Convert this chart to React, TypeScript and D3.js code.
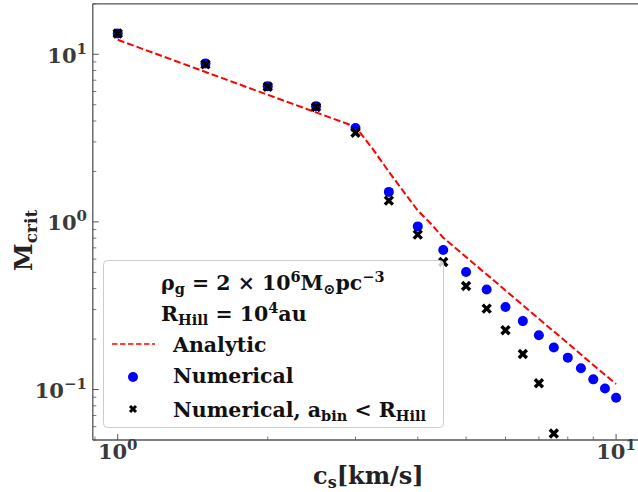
import React from "react";
import * as d3 from "d3";

const csValues = [1, 1.5, 2, 2.5, 3, 3.5, 4, 4.5, 5, 5.5, 6, 6.5, 7, 7.5, 8, 8.5, 9, 9.5, 10];
const numerical = [13.3, 8.8, 6.45, 4.9, 3.63, 1.51, 0.94, 0.68, 0.503, 0.395, 0.311, 0.256, 0.211, 0.178, 0.155, 0.134, 0.115, 0.1015, 0.0893];
const crossCs = [1, 1.5, 2, 2.5, 3, 3.5, 4, 4.5, 5, 5.5, 6, 6.5, 7, 7.5];
const numericalBin = [13.3, 8.7, 6.4, 4.85, 3.4, 1.34, 0.84, 0.577, 0.415, 0.304, 0.226, 0.163, 0.109, 0.0547];
const analyticCs = [1, 1.5, 2, 2.5, 3, 3.25, 3.5, 3.75, 4, 4.25, 4.5, 5, 6, 7, 8, 9, 10];
const analytic = [12.2, 7.84, 5.73, 4.5, 3.69, 2.72, 1.99, 1.51, 1.17, 0.975, 0.805, 0.618, 0.39, 0.264, 0.189, 0.14, 0.108];
const xMajor = [1, 10];
const xMajorExp = ["0", "1"];
const yMajor = [0.1, 1, 10];
const yMajorExp = ["\u22121", "0", "1"];

const W = 638, H = 492;
const left = 92.8, right = 641, top = 3.8, bottom = 440;

export default function App() {
  const x = d3.scaleLog().domain([Math.pow(10, -0.05), Math.pow(10, 1.05)]).range([left, right]);
  const y = d3.scaleLog().domain([0.05, 20]).range([bottom, top]);

  const xMinor: number[] = [];
  [0.1, 1, 10].forEach((d) => { for (let k = 2; k <= 9; k++) { const v = d * k; if (v >= x.domain()[0] && v <= x.domain()[1] && v !== 1 && v !== 10) xMinor.push(v); } });
  const yMinor: number[] = [];
  [0.01, 0.1, 1, 10].forEach((d) => { for (let k = 2; k <= 9; k++) { const v = d * k; if (v >= 0.05 && v <= 20) yMinor.push(v); } });

  const line = d3.line<number>().x((_, i) => x(analyticCs[i])).y((d) => y(d));
  const font = "'DejaVu Serif', serif";
  const tickColor = "#3a3a3a";
  const cross = (cx: number, cy: number, s: number, w: number, key?: any) => (
    <path key={key} d={`M${cx - s},${cy - s}L${cx + s},${cy + s}M${cx - s},${cy + s}L${cx + s},${cy - s}`} stroke="#000" strokeWidth={w} strokeLinecap="butt" />
  );

  return (
    <svg width={W} height={H} style={{ position: "absolute", left: 0, top: 0 }} fontFamily={font} fontWeight="bold">
      <rect width={W} height={H} fill="#fff" />
      <defs>
        <clipPath id="plotclip"><rect x={left} y={top} width={right - left} height={bottom - top} /></clipPath>
      </defs>
      {/* ticks */}
      {xMajor.map((v) => <line key={"xM" + v} x1={x(v)} x2={x(v)} y1={bottom} y2={bottom - 6} stroke="#555" strokeWidth={1} />)}
      {xMinor.map((v) => <line key={"xm" + v} x1={x(v)} x2={x(v)} y1={bottom} y2={bottom - 3.5} stroke="#555" strokeWidth={0.8} />)}
      {yMajor.map((v) => <line key={"yM" + v} x1={left} x2={left + 6} y1={y(v)} y2={y(v)} stroke="#555" strokeWidth={1} />)}
      {yMinor.map((v) => <line key={"ym" + v} x1={left} x2={left + 3.5} y1={y(v)} y2={y(v)} stroke="#555" strokeWidth={0.8} />)}
      {/* data */}
      <g clipPath="url(#plotclip)">
        <path d={line(analytic) || ""} fill="none" stroke="#ff0000" strokeWidth={2} strokeDasharray="7,3" />
        {numerical.map((v, i) => <circle key={"n" + i} cx={x(csValues[i])} cy={y(v)} r={5} fill="#0000ff" />)}
        {numericalBin.map((v, i) => cross(x(crossCs[i]), y(v), 4, 3.4, "c" + i))}
      </g>
      {/* spines */}
      <line x1={left} x2={left} y1={top} y2={bottom} stroke="#555" strokeWidth={1.3} />
      <line x1={left} x2={right} y1={bottom} y2={bottom} stroke="#555" strokeWidth={1.3} />
      <line x1={left} x2={right} y1={top} y2={top} stroke="#555" strokeWidth={1.3} />
      {/* tick labels */}
      {xMajor.map((v, i) => (
        <text key={"xl" + v} x={x(v)} y={459} textAnchor="middle" fontSize={21} fill={tickColor}>
          10<tspan dy={-9} fontSize={15}>{xMajorExp[i]}</tspan>
        </text>
      ))}
      {yMajor.map((v, i) => (
        <text key={"yl" + v} x={87} y={y(v) + 8.5} textAnchor="end" fontSize={21} fill={tickColor}>
          10<tspan dy={-9} fontSize={15}>{yMajorExp[i]}</tspan>
        </text>
      ))}
      {/* axis labels */}
      <text x={313} y={484} fontSize={24} fill="#222">
        c<tspan dy={4} fontSize={16}>s</tspan><tspan dy={-4}>[km/s]</tspan>
      </text>
      <text transform="translate(32,271) rotate(-90)" fontSize={25} fill="#222">
        M<tspan dy={5} fontSize={17}>crit</tspan>
      </text>
      {/* legend */}
      <rect x={103.5} y={260.5} width={340} height={167} rx={4} fill="#fff" fillOpacity={0.8} stroke="#ccc" strokeWidth={1} />
      <text x={161} y={290} fontSize={20.5} fill="#111">
        ρ<tspan dy={4} fontSize={14.5}>g</tspan><tspan dy={-4}> = 2 × 10</tspan><tspan dy={-8} fontSize={14.5}>6</tspan><tspan dy={8}>M</tspan><tspan dy={4} fontSize={14.5}>⊙</tspan><tspan dy={-4}>pc</tspan><tspan dy={-8} fontSize={14.5}>−3</tspan>
      </text>
      <text x={161} y={321} fontSize={20.5} fill="#111">
        R<tspan dy={4} fontSize={14.5}>Hill</tspan><tspan dy={-4}> = 10</tspan><tspan dy={-8} fontSize={14.5}>4</tspan><tspan dy={8}>au</tspan>
      </text>
      <line x1={112} x2={155} y1={344} y2={344} stroke="#ff0000" strokeWidth={1.5} strokeDasharray="5.5,2.5" />
      <text x={173} y={351.5} fontSize={20.5} fill="#111">Analytic</text>
      <circle cx={133} cy={377} r={5} fill="#0000ff" />
      <text x={173} y={383} fontSize={20.5} fill="#111">Numerical</text>
      {cross(133, 409, 3, 3)}
      <text x={173} y={416.5} fontSize={20.5} fill="#111">
        Numerical, a<tspan dy={4} fontSize={14.5}>bin</tspan><tspan dy={-4}> &lt; R</tspan><tspan dy={4} fontSize={14.5}>Hill</tspan>
      </text>
    </svg>
  );
}
